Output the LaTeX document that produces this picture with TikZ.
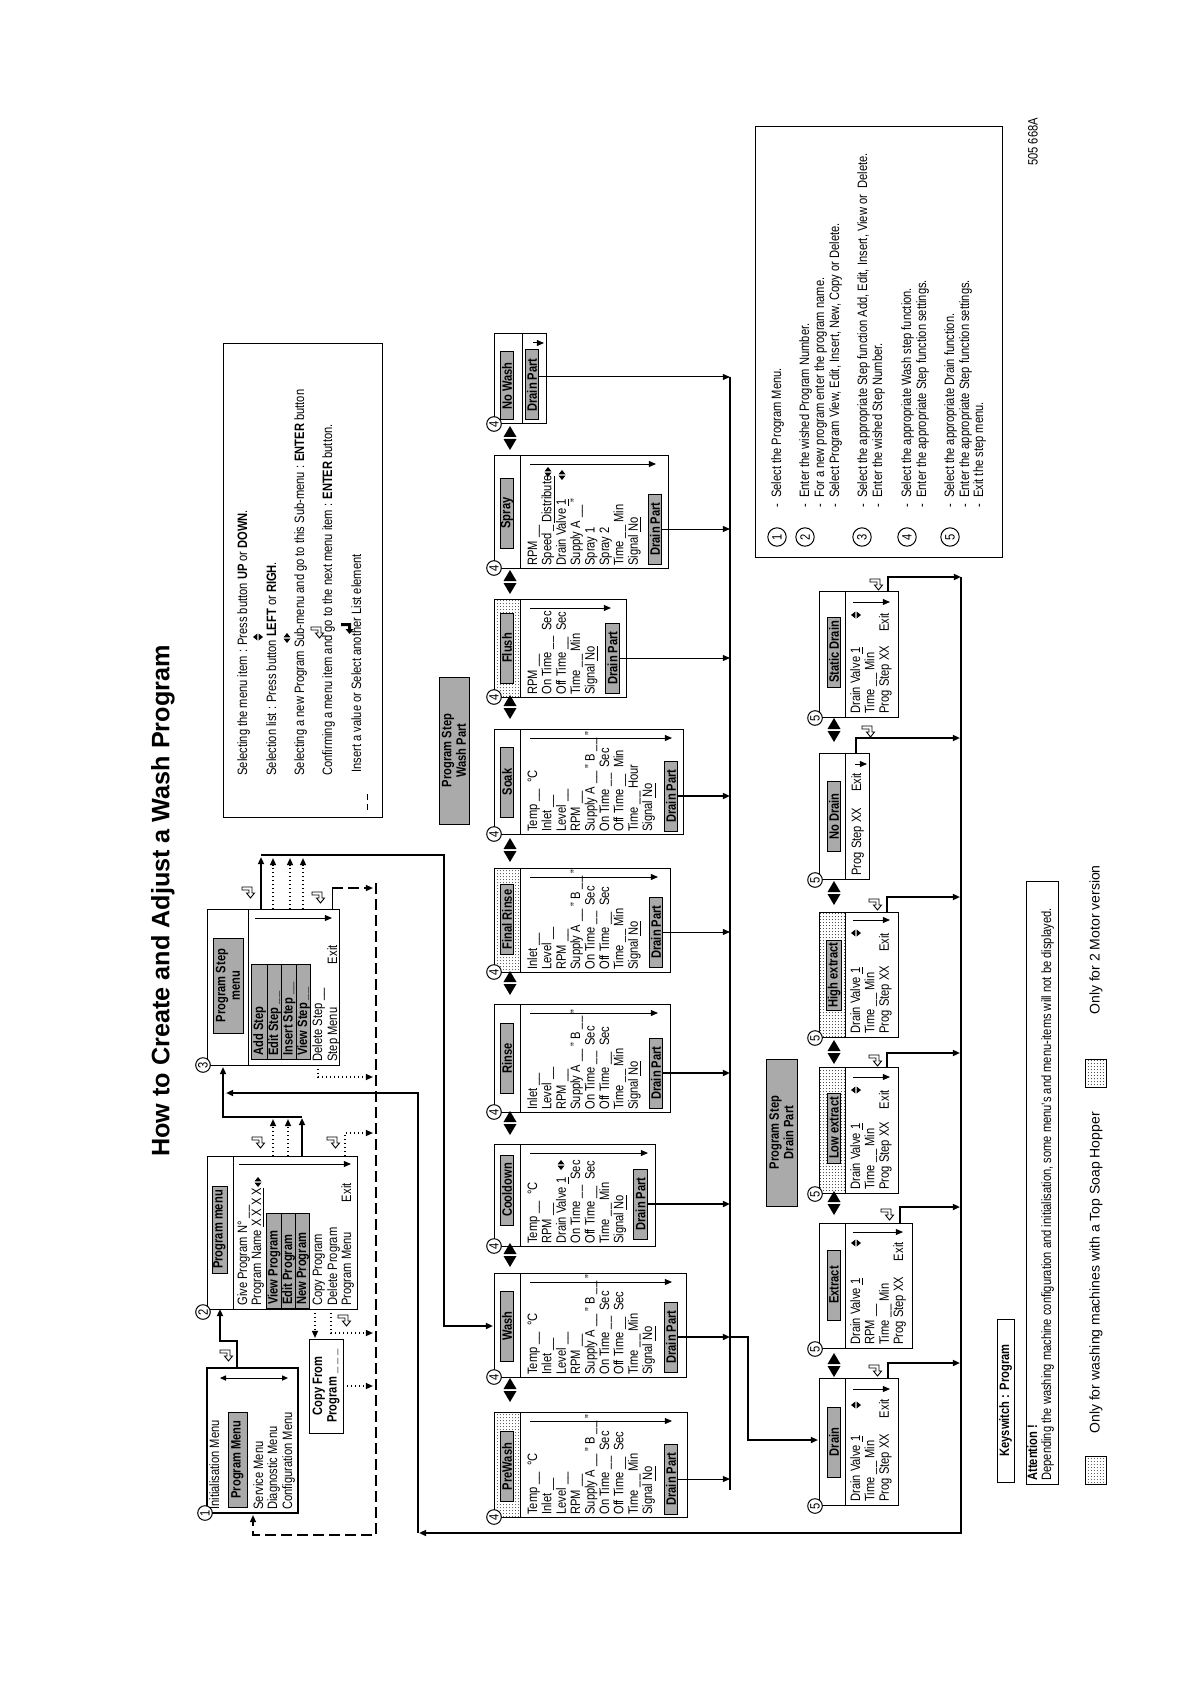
\documentclass[tikz,border=0pt]{standalone}
\usepackage{fontspec}
\setmainfont{Liberation Sans}[FakeStretch=0.82]
\newfontfamily\titlefont{Liberation Sans}
\usetikzlibrary{arrows.meta,patterns}
\definecolor{midgray}{RGB}{170,170,170}
\pgfdeclarepatternformonly{finedots}{\pgfpointorigin}{\pgfqpoint{1.7pt}{1.7pt}}{\pgfqpoint{1.7pt}{1.7pt}}{\pgfpathcircle{\pgfqpoint{0.85pt}{0.85pt}}{0.3pt}\pgfusepath{fill}}
\newcommand\fsz{\fontsize{6.8}{7.2}\selectfont}
\newcommand\bx[6][]{\node[draw, anchor=north west, inner sep=0pt, outer sep=0pt, line width=0.5pt, minimum width={(#5-#3)*0.5pt}, minimum height={(#6-#4)*0.5pt}, #1] (#2) at (#3,#4) {};}
\newcommand\tlines[4]{\foreach \ltx [count=\li] in {#4}{\node[txt] (#1\li) at ({#2},{#3+14.4*(\li-1)}) {\ltx};}}
\newcommand\hdrdots[4]{\fill[pattern=finedots, pattern color=black!75] (#1,#2) rectangle (#3,#4);}
\newcommand\washbox[9]{%
  \bx{#1}{#2}{494}{#3}{#4}
  \draw[thinl] (#2,520) -- (#3,520);
  \node[glabel] (#1h) at (#5,507) {#8};
  \node[glabel] (#1dp) at (#6,#7) {Drain Part};
  \draw[thinl, arr] ({#3-9},530) -- ({#3-9},#9);
  \node[circ] (#1c) at ({#2},494) {4};
}
\newcommand\drainbox[6]{%
  \bx{#1}{#2}{819}{#3}{#4}
  \draw[thinl] (#2,845) -- (#3,845);
  \node[glabel] (#1h) at (#5,834) {#6};
  \node[circ] (#1c) at ({#2-1},815) {5};
}
\tikzset{
  pics/lrbig/.style={code={\fill (-1,-6.5) -- (-1,6.5) -- (-12,0) -- cycle; \fill (1,-6.5) -- (1,6.5) -- (12,0) -- cycle;}},
  pics/lrs/.style={code={\fill (-0.6,-3.5) -- (-0.6,3.5) -- (-5,0) -- cycle; \fill (0.6,-3.5) -- (0.6,3.5) -- (5,0) -- cycle;}},
  pics/uds/.style={code={\fill (-3.5,-0.6) -- (3.5,-0.6) -- (0,-5) -- cycle; \fill (-3.5,0.6) -- (3.5,0.6) -- (0,5) -- cycle;}},
  pics/enterh/.style={code={\draw[line width=0.45pt, fill=white] (2,-6) -- (5,-6) -- (5,4) -- (-1,4) -- (-1,6.5) -- (-6,2.5) -- (-1,-1.5) -- (-1,1) -- (2,1) -- cycle;}},
  pics/enterf/.style={code={\fill (2,-6) -- (5,-6) -- (5,4) -- (-1,4) -- (-1,6.5) -- (-6,2.5) -- (-1,-1.5) -- (-1,1) -- (2,1) -- cycle;}},
}
\begin{document}
\begin{tikzpicture}[
  txt/.style={anchor=base west, inner sep=0pt, font=\fsz},
  glabel/.style={draw=black, line width=0.5pt, fill=midgray, minimum width=35pt, minimum height=6.8pt, inner sep=0.4pt, font=\fsz\bfseries},
  thinl/.style={line width=0.5pt},
  conn/.style={line width=0.9pt},
  arr/.style={-{Triangle[length=3.6pt,width=3pt]}},
  dotc/.style={line width=0.8pt, dash pattern=on 0.7pt off 1.3pt},
  dashc/.style={line width=0.8pt, dash pattern=on 5.5pt off 2.5pt},
  circ/.style={circle, draw, line width=0.5pt, fill=white, inner sep=0pt, minimum size=7.3pt, font=\fsz},
]
\useasboundingbox (0,0) rectangle (595pt,-842pt);
\fill[white] (0,0) rectangle (595pt,-842pt);
\begin{scope}[shift={(0pt,-842pt)}, rotate=90, x=0.5pt, y=-0.5pt, transform shape]

% ---------- title ----------
\node[font={\titlefont\bfseries\fontsize{12.6}{14}\selectfont}] (title) at (783,163) {How to Create and Adjust a Wash Program};

% ---------- box 1 ----------
\bx[line width=0.9pt]{b1}{171}{207}{316}{298}
\node[txt] (b1t1) at (174,219) {Initialisation Menu};
\node[glabel, minimum width=47.5pt, minimum height=9.5pt] (b1pm) at (224.5,237.5) {Program Menu};
\node[txt] (b1t2) at (174,263) {Service Menu};
\node[txt] (b1t3) at (174,277) {Diagnostic Menu};
\node[txt] (b1t4) at (174,292) {Configuration Menu};
\draw[thinl, {Triangle[length=3pt,width=2.6pt]}-{Triangle[length=3pt,width=2.6pt]}] (306,220) -- (306,288);
\node[circ] (c1) at (171,205) {1};

% ---------- copy from ----------
\bx{cf}{251}{309}{345}{343}
\node[font=\fsz\bfseries, align=center, inner sep=0pt] (cft) at (298,326) {Copy From\\Program \_ \_ \_};

% ---------- box 2 ----------
\bx{b2}{375}{207}{528}{357}
\draw[thinl] (375,233) -- (528,233);
\node[glabel, minimum width=43.5pt, minimum height=7.5pt] (b2h) at (454.5,219.5) {Program menu};
\node[txt] (b2t1) at (378,247) {Give Program N° \_\_};
\node[txt] (b2t2) at (378,261) {Program Name \underline{X X X X}};
\pic at (502,258) {lrs};
\draw[thinl, fill=midgray] (376,266) rectangle (471,309);
\draw[thinl] (376,281) -- (471,281) (376,295) -- (471,295);
\node[txt, font=\fsz\bfseries] (b2v) at (379,277.5) {View Program};
\node[txt, font=\fsz\bfseries] (b2e) at (379,292) {Edit Program};
\node[txt, font=\fsz\bfseries] (b2n) at (379,306) {New Program};
\node[txt] (b2t3) at (378,322) {Copy Program};
\node[txt] (b2t4) at (378,337) {Delete Program};
\node[txt] (b2t5) at (378,351) {Program Menu};
\node[txt, anchor=base east] (b2x) at (501,351) {Exit};
\draw[thinl, arr] (520,239) -- (520,351);
\node[circ] (c2) at (372,203) {2};

% ---------- box 3 ----------
\bx{b3}{619}{207}{775}{339}
\draw[thinl] (619,248) -- (775,248);
\node[glabel, minimum width=47.5pt, minimum height=15pt, align=center] (b3h) at (698.5,228) {Program Step\\menu};
\draw[thinl, fill=midgray] (625,251) rectangle (720,310);
\draw[thinl] (625,267) -- (720,267) (625,281) -- (720,281) (625,296) -- (720,296);
\node[txt, font=\fsz\bfseries] (b3a) at (628,263) {Add Step};
\node[txt, font=\fsz\bfseries] (b3e) at (628,278) {Edit Step \_\_};
\node[txt, font=\fsz\bfseries] (b3i) at (628,292.5) {Insert Step \_\_};
\node[txt, font=\fsz\bfseries] (b3v) at (628,307) {View Step \_\_};
\node[txt] (b3d) at (622,322) {Delete Step \_\_};
\node[txt] (b3s) at (622,337) {Step Menu};
\node[txt, anchor=base east] (b3x) at (739,337) {Exit};
\draw[thinl, arr] (766,255) -- (766,332);
\node[circ] (c3) at (619,203) {3};

% ---------- top connectors ----------
\draw[conn, arr] (316,237) -- (343,237) -- (343,220) -- (375,220);
\pic at (329,226) {enterh};
\draw[dotc, arr] (375,315) -- (346,315);
\draw[dotc, arr] (375,331) -- (351,331) -- (351,373);
\pic at (364,344) {enterh};
\draw[dotc, arr] (298,343) -- (298,373);
\draw[dashc, arr] (801,376) -- (149,376) -- (149,253) -- (169,253);
\draw[dotc, arr] (528,273) -- (565,273);
\draw[dotc, arr] (528,288) -- (565,288);
\draw[conn, arr] (528,302) -- (566,302);
\draw[conn, arr] (567,302) -- (567,223) -- (617,223);
\pic at (542,258) {enterh};
\pic at (542,333) {enterh};
\draw[dotc, arr] (528,345) -- (551,345) -- (551,373);
\draw[dotc, arr] (619,318) -- (607,318) -- (607,373);
\draw[thinl] (775,332) -- (796,332);
\draw[dashc, arr] (796,332) -- (796,373);
\pic at (787,318) {enterh};
\draw[dotc, arr] (775,273) -- (826,273);
\draw[dotc, arr] (775,290) -- (826,290);
\draw[dotc, arr] (775,303) -- (826,303);
\draw[conn, arr] (775,261) -- (827,261);
\pic at (792,248) {enterh};
\draw[conn, arr] (829,261) -- (829,444) -- (358,444) -- (358,493);

% ---------- legend box ----------
\bx{lg}{867}{223}{1340}{382}
\node[txt] (lg1) at (908,247) {Selecting the menu item : Press button \textbf{UP} or \textbf{DOWN}.};
\node[txt] (lg2) at (908,276) {Selection list : Press button \textbf{LEFT} or \textbf{RIGH}.};
\node[txt] (lg3) at (908,304) {Selecting a new Program Sub-menu and go to this Sub-menu : \textbf{ENTER} button};
\node[txt] (lg4) at (908,332) {Confirming a menu item and go to the next menu item : \textbf{ENTER} button.};
\node[txt] (lg5) at (911,361) {Insert a value or Select another List element};
\pic at (1047,258) {uds};
\pic at (1046,287) {lrs};
\pic at (1052,317) {enterh};
\pic at (1056,347) {enterf};
\draw[thinl] (874,367) -- (880,367) (884,367) -- (890,367);

% ---------- wash step boxes ----------
\hdrdots{167}{494}{272}{520}
\washbox{pw}{167}{272}{687}{217.5}{205}{671}{PreWash}{672}
\tlines{pwl}{169}{537}{{Temp \_\_ \ °C},{Inlet \_\_},{Level \_\_},{RPM \_\_},{Supply A \_\_ " B \_\_ "},{On Time \_\_ \ Sec},{Off Time \_\_ \ Sec},{Time \_\_ Min},{Signal \underline{No}}}
\washbox{ws}{307}{411}{686}{358}{347}{671}{Wash}{672}
\tlines{wsl}{309}{537}{{Temp \_\_ \ °C},{Inlet \_\_},{Level \_\_},{RPM \_\_},{Supply A \_\_ " B \_\_ "},{On Time \_\_ \ Sec},{Off Time \_\_ \ Sec},{Time \_\_ Min},{Signal \underline{No}}}
\washbox{cd}{438}{540}{655}{494}{480}{640.5}{Cooldown}{648}
\tlines{cdl}{440}{537}{{Temp \_\_ \ °C},{RPM \_\_},{Drain Valve \underline{1}},{On Time \_\_ \ Sec},{Off Time \_\_ \ Sec},{Time \_\_ Min},{Signal \underline{No}}}
\pic at (519,561) {lrs};
\washbox{rn}{572}{680}{670}{625.5}{611}{656}{Rinse}{658}
\tlines{rnl}{574}{537}{{Inlet \_\_},{Level \_\_},{RPM \_\_},{Supply A \_\_ " B \_\_ "},{On Time \_\_ \ Sec},{Off Time \_\_ \ Sec},{Time \_\_ Min},{Signal \underline{No}}}
\hdrdots{712}{494}{816}{520}
\washbox{fr}{712}{816}{670}{764.5}{752}{656}{Final Rinse}{658}
\tlines{frl}{714}{537}{{Inlet \_\_},{Level \_\_},{RPM \_\_},{Supply A \_\_ " B \_\_ "},{On Time \_\_ \ Sec},{Off Time \_\_ \ Sec},{Time \_\_ Min},{Signal \underline{No}}}
\washbox{sk}{850}{955}{683}{902}{888}{671}{Soak}{672}
\tlines{skl}{852}{537}{{Temp \_\_ \ °C},{Inlet \_\_},{Level \_\_},{RPM \_\_},{Supply A \_\_ " B \_\_ "},{On Time \_\_ \ Sec},{Off Time \_\_ \ Min},{Time \_\_ Hour},{Signal \underline{No}}}
\hdrdots{987}{494}{1085}{520}
\washbox{fl}{987}{1085}{626}{1036}{1026}{612.5}{Flush}{611}
\tlines{fll}{989}{537}{{RPM \_\_},{On Time \_\_ \ Sec},{Off Time \_\_ \ Sec},{Time \_\_ Min},{Signal \underline{No}}}
\washbox{sp}{1116}{1229}{668}{1171}{1155}{655}{Spray}{656}
\tlines{spl}{1118}{537}{{RPM \_\_},{Speed\,\_\,\underline{Distribute}},{Drain Valve \underline{1}},{Supply A \_\_ "},{Spray 1},{Spray 2},{Time \_\_ Min},{Signal \underline{No}}}
\pic at (1212,548) {lrs};
\pic at (1209,562) {lrs};
% no wash
\bx{nw}{1260}{494}{1350}{546}
\draw[thinl] (1260,522) -- (1350,522);
\node[glabel, minimum width=34pt] (nwh) at (1298,507) {No Wash};
\node[glabel] (nwdp) at (1299,532) {Drain Part};
\draw[thinl, arr] (1341,533) -- (1341,544);
\node[circ] (nwc) at (1260,494) {4};
% selection arrows between wash boxes
\foreach \sx in {294,429,561,701,834,977,1102,1246} {\pic at (\sx,510) {lrbig};}
\node[glabel, minimum width=73.5pt, minimum height=15pt, align=center] (pswp) at (933.5,454) {Program Step\\Wash Part};

% wash drain lines and bus
\draw[thinl, arr] (205,678) -- (205,730);
\draw[conn, arr] (347,678) -- (347,730);
\draw[conn, arr] (480,647.5) -- (480,730);
\draw[conn, arr] (611,663) -- (611,730);
\draw[thinl, arr] (752,663) -- (752,730);
\draw[conn, arr] (888,678) -- (888,730);
\draw[thinl, arr] (1026,619.5) -- (1026,730);
\draw[thinl, arr] (1155,662) -- (1155,730);
\draw[thinl, arr] (1307,539) -- (1307,730);
\draw[conn] (1307,730) -- (194,730);
\draw[conn, arr] (347,730) -- (347,748) -- (244,748) -- (244,818);

% ---------- drain boxes ----------
\drainbox{dr}{179}{306}{898}{242}{Drain}
\tlines{drl}{182}{860}{{Drain Valve \underline{1}},{Time \_\_ Min},{Prog Step XX}}
\node[txt, anchor=base east] (drx) at (285,888.8) {Exit};
\pic at (279,856) {uds};
\draw[thinl, arr] (295,853) -- (295,890);
\draw[conn, arr] (306,888) -- (321,888) -- (321,960);
\pic at (314,875) {enterh};

\drainbox{ex}{336}{461}{912}{399}{Extract}
\tlines{exl}{339}{860}{{Drain Valve \underline{1}},{RPM \_\_},{Time \_\_ Min},{Prog Step XX}}
\node[txt, anchor=base east] (exx) at (442,903.2) {Exit};
\pic at (441,856) {uds};
\draw[thinl, arr] (452,853) -- (452,903);
\draw[conn, arr] (461,900) -- (477,900) -- (477,960);
\pic at (470,887) {enterh};

\hdrdots{491}{819}{617}{845}
\drainbox{le}{491}{617}{898}{556}{Low extract}
\tlines{lel}{494}{860}{{Drain Valve \underline{1}},{Time \_\_ Min},{Prog Step XX}}
\node[txt, anchor=base east] (lex) at (594,888.8) {Exit};
\pic at (594,856) {uds};
\draw[thinl, arr] (607,853) -- (607,890);
\draw[conn, arr] (617,887) -- (631,887) -- (631,960);
\pic at (624,875) {enterh};

\hdrdots{647}{819}{772}{845}
\drainbox{he}{647}{772}{898}{709}{High extract}
\tlines{hel}{650}{860}{{Drain Valve \underline{1}},{Time \_\_ Min},{Prog Step XX}}
\node[txt, anchor=base east] (hex) at (751,888.8) {Exit};
\pic at (751,856) {uds};
\draw[thinl, arr] (764,853) -- (764,890);
\draw[conn, arr] (772,887) -- (787,887) -- (787,960);
\pic at (780,875) {enterh};

\drainbox{nd}{805}{931}{869}{867.5}{No Drain}
\node[txt] (ndl1) at (808,861) {Prog Step XX};
\node[txt, anchor=base east] (ndx) at (911,861) {Exit};
\draw[thinl, arr] (920,855) -- (920,867);
\draw[conn, arr] (931,856) -- (946,856) -- (946,960);
\pic at (953,868) {enterh};

\drainbox{sd}{967}{1093}{898}{1032}{Static Drain}
\tlines{sdl}{970}{860}{{Drain Valve \underline{1}},{Time \_\_ Min},{Prog Step XX}}
\node[txt, anchor=base east] (sdx) at (1071,888.8) {Exit};
\pic at (1069,856) {uds};
\draw[thinl, arr] (1082,853) -- (1082,890);
\draw[conn, arr] (1093,888) -- (1107,888) -- (1107,961);
\pic at (1100,876) {enterh};

\foreach \sx in {319,481,632,791,954} {\pic at (\sx,834) {lrbig};}
\node[glabel, minimum width=73.5pt, minimum height=15.5pt, align=center] (psdp) at (551.5,781.5) {Program Step\\Drain Part};

% return bus
\draw[conn, arr] (1107,961) -- (151,961) -- (151,419);
\draw[conn, arr] (151,418) -- (591,418) -- (591,226);

% ---------- instruction box ----------
\bx{ib}{1127}{755}{1557}{1002}
\foreach \cy/\cn in {777/1,805/2,862/3,907/4,950/5} {\node[circ, minimum size=9.2pt] (ic\cn) at (1147,\cy) {\cn};}
\node[txt] (in1) at (1176,781) {-\ \ Select the Program Menu.};
\node[txt] (in2) at (1176,809) {-\ \ Enter the wished Program Number.};
\node[txt] (in3) at (1176,824) {-\ \ For a new program enter the program name.};
\node[txt] (in4) at (1176,839) {-\ \ Select Program View, Edit, Insert, New, Copy or Delete.};
\node[txt] (in5) at (1176,867) {-\ \ Select the appropriate Step function Add, Edit, Insert, View or \ Delete.};
\node[txt] (in6) at (1176,882) {-\ \ Enter the wished Step Number.};
\node[txt] (in7) at (1176,911) {-\ \ Select the appropriate Wash step function.};
\node[txt] (in8) at (1176,926) {-\ \ Enter the appropriate Step function settings.};
\node[txt] (in9) at (1176,954) {-\ \ Select the appropriate Drain function.};
\node[txt] (in10) at (1176,969) {-\ \ Enter the appropriate Step function settings.};
\node[txt] (in11) at (1176,983) {-\ \ Exit the step menu.};
\node[font=\fsz] (code) at (1542,1033) {505 668A};

% ---------- bottom notes ----------
\node[draw, line width=0.5pt, font=\fsz\bfseries, minimum width=81.5pt, minimum height=8.5pt, inner sep=0pt] (ks) at (283.5,1005.5) {Keyswitch : Program};
\bx{att}{200}{1026}{803}{1058}
\node[txt, font=\fsz\bfseries] (att1) at (203,1037) {Attention !};
\node[txt] (att2) at (203,1051) {Depending the washing machine configuration and initialisation, some menu's and menu-items will not be displayed.};
\hdrdots{200}{1085}{228}{1106}
\draw[thinl] (200,1085) rectangle (228,1106);
\node[txt, font={\titlefont\fontsize{7}{8}\selectfont}] (lgd1) at (250,1099.5) {Only for washing machines with a Top Soap Hopper};
\hdrdots{597}{1085}{625}{1106}
\draw[thinl] (597,1085) rectangle (625,1106);
\node[txt, font={\titlefont\fontsize{7}{8}\selectfont}] (lgd2) at (669,1099.5) {Only for 2 Motor version};

\end{scope}
\end{tikzpicture}
\end{document}
